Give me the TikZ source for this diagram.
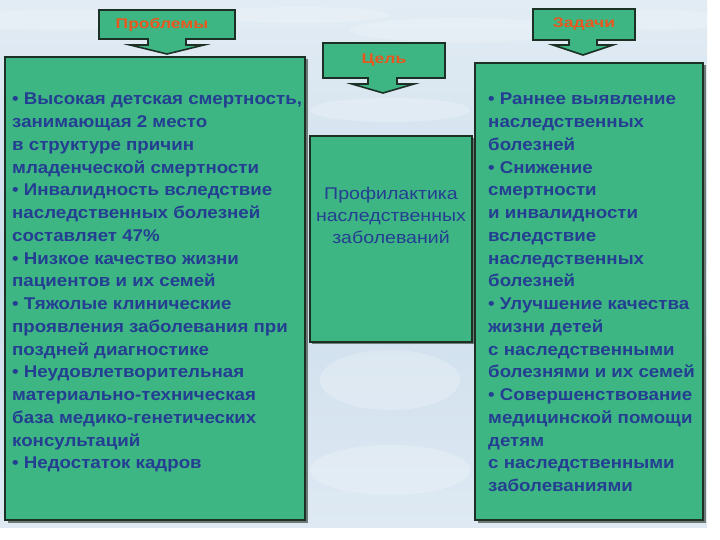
\documentclass[tikz,border=0pt]{standalone}
\usepackage{fontspec}
\setmainfont{Liberation Sans}
\newfontfamily\listfont[FakeStretch=1.1]{Liberation Sans}
\newfontfamily\lblfont[FakeStretch=1.25]{Liberation Sans}
\newfontfamily\goalfont[FakeStretch=1.15]{Liberation Sans}
\begin{document}
\begin{tikzpicture}[x=1pt,y=-1pt,
  boxfill/.style={fill=boxgreen,draw=boxline,line width=1.6pt},
  calloutlbl/.style={font=\lblfont\bfseries\fontsize{14}{16}\selectfont,text=lblorange,inner sep=0pt},
  listtext/.style={font=\listfont\bfseries\fontsize{17}{22.75}\selectfont,text=txtblue,align=left,inner sep=0pt,anchor=north west},
  centertext/.style={font=\goalfont\fontsize{17}{22}\selectfont,text=txtblue,align=center,inner sep=0pt}]
\definecolor{boxgreen}{RGB}{62,182,132}
\definecolor{boxline}{RGB}{28,48,38}
\definecolor{shadowgray}{RGB}{110,122,118}
\definecolor{lblorange}{RGB}{232,88,30}
\definecolor{txtblue}{RGB}{36,62,145}
\definecolor{skytop}{RGB}{226,236,244}
\definecolor{skymid}{RGB}{205,222,236}
\definecolor{skybot}{RGB}{222,233,243}
\useasboundingbox (0,0) rectangle (720,540);
\fill[white] (0,0) rectangle (720,540);
% sky
\shade[top color=skytop,bottom color=skymid] (0,0) rectangle (707,260);
\shade[top color=skymid,bottom color=skybot] (0,260) rectangle (707,527);
\foreach \cx/\cy/\rx/\ry in {60/20/120/10, 300/15/90/8, 460/30/110/12, 660/20/70/10, 390/110/80/12, 390/380/70/30, 390/470/80/25, 690/300/20/60}
  \fill[white,opacity=0.22] (\cx,\cy) ellipse [x radius=\rx, y radius=\ry];
% shadows
\fill[shadowgray] (7.5,59.5) rectangle (307.5,522.5);
\fill[shadowgray] (477.5,65.5) rectangle (705.5,522.5);
\fill[shadowgray] (312,138) rectangle (474,344);
% big boxes
\node[boxfill,minimum width=300pt,minimum height=463pt,inner sep=0pt] (probbox) at (155,288.5) {};
\node[boxfill,minimum width=228pt,minimum height=457pt,inner sep=0pt] (taskbox) at (589,291.5) {};
\node[boxfill,minimum width=162pt,minimum height=206pt,inner sep=0pt] (goalbox) at (391,239) {};
% callouts
\draw[boxfill] (99,10) -- (235,10) -- (235,39) -- (186,39) -- (186,45) -- (204,45) -- (167,54) -- (130,45) -- (148,45) -- (148,39) -- (99,39) -- cycle;
\draw[boxfill] (323,43) -- (445,43) -- (445,78) -- (397,78) -- (397,84) -- (414,84) -- (383,93) -- (352,84) -- (368,84) -- (368,78) -- (323,78) -- cycle;
\draw[boxfill] (533,9) -- (635,9) -- (635,40) -- (597,40) -- (597,45) -- (613,45) -- (583,55) -- (553,45) -- (569,45) -- (569,40) -- (533,40) -- cycle;
\node[calloutlbl] (lblprob) at (162,25) {Проблемы};
\node[calloutlbl] (lblgoal) at (384,60) {Цель};
\node[calloutlbl] (lbltask) at (584,24) {Задачи};
% texts
\node[listtext] (probtext) at (12,93) {• Высокая детская смертность,\\
занимающая 2 место\\
в структуре причин\\
младенческой смертности\\
• Инвалидность вследствие\\
наследственных болезней\\
составляет 47\%\\
• Низкое качество жизни\\
пациентов и их семей\\
• Тяжолые клинические\\
проявления заболевания при\\
поздней диагностике\\
• Неудовлетворительная\\
материально-техническая\\
база медико-генетических\\
консультаций\\
• Недостаток кадров};
\node[listtext] (tasktext) at (488,93) {• Раннее выявление\\
наследственных\\
болезней\\
• Снижение\\
смертности\\
и инвалидности\\
вследствие\\
наследственных\\
болезней\\
• Улучшение качества\\
жизни детей\\
с наследственными\\
болезнями и их семей\\
• Совершенствование\\
медицинской помощи\\
детям\\
с наследственными\\
заболеваниями};
\node[centertext] (goaltext) at (391,215) {Профилактика\\наследственных\\заболеваний};
\end{tikzpicture}
\end{document}
